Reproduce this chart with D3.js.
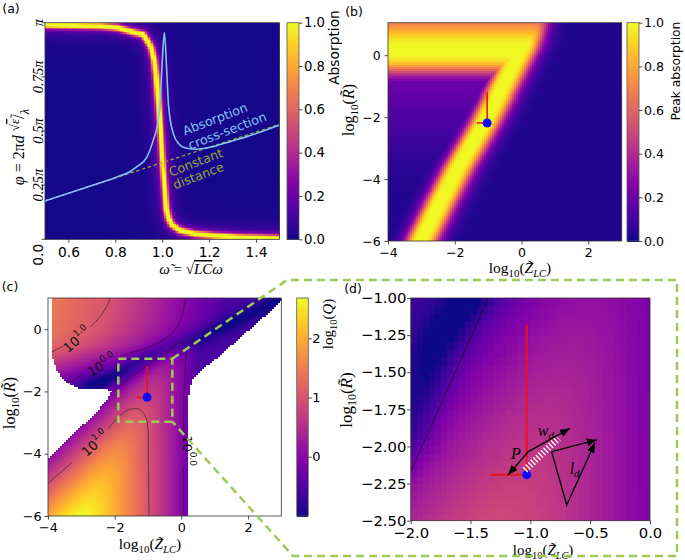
<!DOCTYPE html>
<html><head><meta charset="utf-8">
<script src="https://cdn.jsdelivr.net/npm/d3@7"></script>
<style>html,body{margin:0;padding:0;background:#fff;} svg{display:block;}</style>
</head><body>
<svg id="fig" width="685" height="560" xmlns="http://www.w3.org/2000/svg"></svg>
<script>
// ================= DATA =================
// ---- panel (a) ----
const aOmegaTicks=[0.6,0.8,1.0,1.2,1.4];
const aOmegaTickLabels=["0.6","0.8","1.0","1.2","1.4"];
const aPhiTicks=[0.25,0.5,0.75,1];            // in units of pi
const aPhiTickLabels=["0.25π","0.5π","0.75π","π"];
const aBandOmega=[0.5,0.735,0.807,0.875,0.918,0.935,0.952,0.965,0.973,0.982,0.993,1.001,1.010,1.018,1.029,1.042,1.076,1.140,1.225,1.332,1.5];
const aBandPhi=[0.992,0.987,0.980,0.959,0.948,0.920,0.888,0.828,0.758,0.643,0.505,0.366,0.246,0.145,0.098,0.071,0.045,0.029,0.020,0.013,0.008];
const aCrossOmega=[0.5,0.662,0.807,0.862,0.892,0.935,0.962,0.983,0.990,0.998,1.009,1.019,1.026,1.034,1.047,1.068,1.104,1.147,1.218,1.289,1.360,1.5];
const aCrossPhi=[0.177,0.235,0.288,0.312,0.335,0.381,0.459,0.551,0.629,0.782,0.954,0.782,0.629,0.551,0.489,0.443,0.420,0.416,0.428,0.451,0.474,0.528];
const aConstOmega=[0.5,1.5];
const aConstPhi=[0.177,0.531];
const absTicks=[0,0.2,0.4,0.6,0.8,1.0];
const absTickLabels=["0.0","0.2","0.4","0.6","0.8","1.0"];
// ---- panels (b)(c) shared ----
const zTicks=[-4,-2,0,2];
const zTickLabels=["−4","−2","0","2"];
const rTicks=[0,-2,-4,-6];
const rTickLabels=["0","−2","−4","−6"];
// ---- panel (b) ----
const bDiagR=[-6,-4.68,-3.6,-2.18,-1.45,-0.38,0.2,1.05];
const bDiagZ=[-3.05,-2.44,-1.92,-1.15,-0.8,-0.3,-0.02,0.3];
const bBarCenterR=0.24;
const bBarEdgeR=-0.85;
// ---- design point (b,c,d) ----
const dotZ=-1.03, dotR=-2.19, redTopR=-1.18, redLeftZ=-1.34;
// ---- panel (c) ----
const qTicks=[0,1,2];
const qTickLabels=["0","1","2"];
const cUpperQ1Z=[-1.74,-0.84,-0.24,0.01,0.11,0.16];
const cUpperQ1R=[-0.84,-0.52,-0.09,0.39,0.88,1.04];
const cValleyZ=[-2.7,-1.7,-0.8,0.3,1.5,3.0];
const cValleyR=[-1.8,-1.35,-0.8,-0.3,0.2,1.0];
const cMaskLeftZ=[-4.05,-3.89,-3.89,-3.74,-3.44,-3.04,-2.24,-2.09,-2.24,-2.49,-4.05];
const cMaskLeftR=[1.05,1.05,-0.83,-1.31,-1.69,-1.88,-1.9,-2.0,-2.27,-2.59,-4.23];
const cMaskRightZ=[3.05,1.07,0.56,0.31,0.24,0.19,0.19,3.05];
const cMaskRightR=[0.98,-0.89,-1.31,-1.63,-1.96,-2.3,-6.05,-6.05];
const cCont1Z=[-3.89,-3.55,NaN,-2.74,-2.44,-2.19,-2.14];          // Q = 10 (upper)
const cCont1R=[-0.73,-0.55,NaN,0.07,0.4,0.83,1.0];
const cCont2Z=[-3.4,-2.95,NaN,-1.89,-1.74,-0.84,-0.24,0.01,0.11,0.16]; // Q = 1 (upper)
const cCont2R=[-1.75,-1.45,NaN,-0.94,-0.84,-0.52,-0.09,0.39,0.88,1.04];
const cCont3Z=[-2.0,-1.74,-0.6,-0.09,0.03,0.11,0.13,0.08,0.07,NaN,0.06,0.06]; // Q = 1 (right)
const cCont3R=[-2.0,-1.73,-0.85,-0.45,-0.37,-0.5,-1.0,-2.0,-3.4,NaN,-4.4,-6.0];
const cCont4Z=[-4,-3.3,NaN,-2.2,-1.84,-1.6,-1.29,-1.09,-1.0,-0.99,-0.97]; // Q = 10 (lower)
const cCont4R=[-4.95,-4.3,NaN,-3.2,-2.77,-2.6,-2.56,-2.77,-3.2,-4.0,-6.0];
const cLabelText=["1.0","0.0","0.0","1.0"];
const cLabelZ=[-3.14,-2.39,0.21,-2.59];
const cLabelR=[-0.33,-1.15,-3.9,-3.66];
const cLabelAngle=[-40,-30,90,-42];
const cBoxZ=[-1.89,-0.27];
const cBoxR=[-0.95,-2.97];
// ---- panel (d) ----
const dZTicks=[-2,-1.5,-1,-0.5,0];
const dZTickLabels=["−2.0","−1.5","−1.0","−0.5","0.0"];
const dRTicks=[-1,-1.25,-1.5,-1.75,-2,-2.25,-2.5];
const dRTickLabels=["−1.00","−1.25","−1.50","−1.75","−2.00","−2.25","−2.50"];
const dContZ=[-2.0,-1.35];
const dContR=[-2.17,-1.0];
const dValleyZ=[-2.1,-2.0,-1.75,-1.5,-1.35];
const dValleyR=[-2.0,-1.87,-1.3,-1.0,-0.85];
const dArrowPZ=[-1.017,-1.187], dArrowPR=[-2.035,-2.192];
const dArrowWZ=[-1.017,-0.669], dArrowWR=[-2.035,-1.878];
const dHatchZ=[-1.045,-0.766], dHatchR=[-2.158,-1.945];
const dLdAZ=[-0.822,-0.445], dLdAR=[-2.035,-1.956];
const dLdBZ=[-0.822,-0.696,-0.46], dLdBR=[-2.035,-2.394,-1.975];

// ================= HELPERS =================
const svg=d3.select("#fig");
const fSans='"DejaVu Sans", "Liberation Sans", sans-serif';
const fSerif='"Liberation Serif", "DejaVu Serif", serif';
const plasma=d3.interpolatePlasma;
const clamp01=v=>Math.max(0,Math.min(1,v));
function interpExt(xs,ys,x){const n=xs.length;
  if(x<=xs[0]) return ys[0]+(x-xs[0])*(ys[1]-ys[0])/(xs[1]-xs[0]);
  if(x>=xs[n-1]) return ys[n-1]+(x-xs[n-1])*(ys[n-1]-ys[n-2])/(xs[n-1]-xs[n-2]);
  let i=1; while(xs[i]<x) i++; const t=(x-xs[i-1])/(xs[i]-xs[i-1]); return ys[i-1]+t*(ys[i]-ys[i-1]);}
function segDist(px,py,ax,ay,bx,by){const dx=bx-ax,dy=by-ay;const L=dx*dx+dy*dy;let t=L?((px-ax)*dx+(py-ay)*dy)/L:0;t=Math.max(0,Math.min(1,t));const ex=ax+t*dx-px,ey=ay+t*dy-py;return Math.sqrt(ex*ex+ey*ey);}
function polyDist(px,py,xs,ys){let m=Infinity;for(let i=0;i<xs.length-1;i++){const d=segDist(px,py,xs[i],ys[i],xs[i+1],ys[i+1]);if(d<m)m=d;}return m;}

function heat(g,xs,ys,nx,ny,valueFn,colorFn){
  const [x0,x1]=xs.domain(),[y0,y1]=ys.domain();const cells=[];
  for(let j=0;j<ny;j++)for(let i=0;i<nx;i++){
    const xa=x0+(x1-x0)*i/nx,xb=x0+(x1-x0)*(i+1)/nx,ya=y0+(y1-y0)*j/ny,yb=y0+(y1-y0)*(j+1)/ny;
    const v=valueFn((xa+xb)/2,(ya+yb)/2); if(v===null) continue; cells.push({xa,xb,ya,yb,v});}
  g.append("g").attr("shape-rendering","crispEdges").selectAll("rect").data(cells).join("rect")
   .attr("x",d=>Math.min(xs(d.xa),xs(d.xb))).attr("y",d=>Math.min(ys(d.ya),ys(d.yb)))
   .attr("width",d=>Math.abs(xs(d.xb)-xs(d.xa))+0.7).attr("height",d=>Math.abs(ys(d.yb)-ys(d.ya))+0.7)
   .attr("fill",d=>colorFn(d.v));
}
function clip(id,xs,ys){const [a,b]=xs.range(),[c,d]=ys.range();
  svg.append("clipPath").attr("id",id).append("rect").attr("x",Math.min(a,b)).attr("y",Math.min(c,d)).attr("width",Math.abs(b-a)).attr("height",Math.abs(d-c));}
function frame(xs,ys){const [a,b]=xs.range(),[c,d]=ys.range();
  svg.append("rect").attr("x",Math.min(a,b)).attr("y",Math.min(c,d)).attr("width",Math.abs(b-a)).attr("height",Math.abs(d-c)).attr("fill","none").attr("stroke","#333").attr("stroke-width",0.8);}
function axisB(xs,ys,ticks,labels,fs,pad){
  const g=svg.append("g").attr("transform",`translate(0,${ys.range()[0]})`).call(d3.axisBottom(xs).tickValues(ticks).tickSize(3.5).tickPadding(pad).tickFormat((d,i)=>labels[i]));
  g.select(".domain").remove(); g.selectAll("line").attr("stroke","#222").attr("stroke-width",0.8);
  g.selectAll("text").attr("font-family",fSans).attr("font-size",fs).attr("fill","#000"); return g;}
function axisL(xs,ys,ticks,labels,fs,pad){
  const g=svg.append("g").attr("transform",`translate(${xs.range()[0]},0)`).call(d3.axisLeft(ys).tickValues(ticks).tickSize(3.5).tickPadding(pad).tickFormat((d,i)=>labels[i]));
  g.select(".domain").remove(); g.selectAll("line").attr("stroke","#222").attr("stroke-width",0.8);
  g.selectAll("text").attr("font-family",fSans).attr("font-size",fs).attr("fill","#000"); return g;}
function colorbar(x0,x1,y0,y1,domain,cfn,ticks,labels,fs,lx){
  const s=d3.scaleLinear().domain(domain).range([y1,y0]);const n=150;
  const steps=d3.range(n).map(i=>domain[0]+(domain[1]-domain[0])*i/n);const st=(domain[1]-domain[0])/n;
  svg.append("g").attr("shape-rendering","crispEdges").selectAll("rect").data(steps).join("rect").attr("x",x0).attr("width",x1-x0)
    .attr("y",d=>s(d+st)).attr("height",d=>s(d)-s(d+st)+0.8).attr("fill",d=>cfn(d+st/2));
  svg.append("rect").attr("x",x0).attr("y",y0).attr("width",x1-x0).attr("height",y1-y0).attr("fill","none").attr("stroke","#555").attr("stroke-width",0.8);
  const g=svg.append("g").attr("transform",`translate(${x1},0)`).call(d3.axisRight(s).tickValues(ticks).tickSize(3.5).tickPadding(lx).tickFormat((d,i)=>labels[i]));
  g.select(".domain").remove(); g.selectAll("line").attr("stroke","#222").attr("stroke-width",0.8);
  g.selectAll("text").attr("font-family",fSans).attr("font-size",fs).attr("fill","#000");
}
function logLabel(x,y,rot,v,sub,fs){
  const t=svg.append("text").attr("transform",`translate(${x},${y}) rotate(${rot})`).attr("text-anchor","middle")
    .attr("font-family",fSerif).attr("font-size",fs).attr("fill","#000");
  t.append("tspan").text("log");
  t.append("tspan").attr("font-size",fs*0.7).attr("dy",fs*0.26).text("10");
  t.append("tspan").attr("dy",-fs*0.26).text("(");
  t.append("tspan").attr("font-style","italic").text(v);
  if(sub){t.append("tspan").attr("font-style","italic").attr("font-size",fs*0.68).attr("dy",fs*0.26).text(sub);
          t.append("tspan").attr("dy",-fs*0.26).text(")");}
  else t.append("tspan").text(")");
}
function panelLabel(x,y,s){svg.append("text").attr("x",x).attr("y",y).attr("text-anchor","middle").attr("dominant-baseline","central")
  .attr("font-family",fSans).attr("font-size",12.5).text(s);}
function designPoint(g,xs,ys,w){
  g.append("line").attr("x1",xs(dotZ)).attr("x2",xs(dotZ)).attr("y1",ys(redTopR)).attr("y2",ys(dotR)).attr("stroke","#e8141a").attr("stroke-width",w);
  g.append("line").attr("x1",xs(redLeftZ)).attr("x2",xs(dotZ)).attr("y1",ys(dotR)).attr("y2",ys(dotR)).attr("stroke","#e8141a").attr("stroke-width",w);
  g.append("circle").attr("cx",xs(dotZ)).attr("cy",ys(dotR)).attr("r",4.5).attr("fill","#0a0aff");
}

// ================= PANEL (a) =================
const xA=d3.scaleLinear().domain([0.5,1.5]).range([45,279.5]);
const yA=d3.scaleLinear().domain([0,1]).range([239.3,22.7]);
clip("clipA",xA,yA);
const gA=svg.append("g").attr("clip-path","url(#clipA)");
const bandPX=aBandOmega.map(v=>xA(v)), bandPY=aBandPhi.map(v=>yA(v));
heat(gA,xA,yA,157,145,(w,p)=>{const d=polyDist(xA(w),yA(p),bandPX,bandPY);
  return Math.min(1,0.012+0.95/(1+Math.pow(d/2.8,3))+0.16/(1+(d/6)*(d/6)));},plasma);
gA.append("path").datum(aConstOmega.map((w,i)=>[w,aConstPhi[i]])).attr("d",d3.line().x(d=>xA(d[0])).y(d=>yA(d[1])))
  .attr("fill","none").attr("stroke","#9aab3a").attr("stroke-width",1.2).attr("stroke-dasharray","3.5,2.5");
gA.append("path").datum(aCrossOmega.map((w,i)=>[w,aCrossPhi[i]])).attr("d",d3.line().x(d=>xA(d[0])).y(d=>yA(d[1])).curve(d3.curveMonotoneX))
  .attr("fill","none").attr("stroke","#80c6f2").attr("stroke-width",1.6);
frame(xA,yA);
axisB(xA,yA,aOmegaTicks,aOmegaTickLabels,13.8,4);
svg.append("g").selectAll("line").data(aPhiTicks.concat([0])).join("line").attr("x1",45).attr("x2",41.5)
  .attr("y1",d=>yA(d)).attr("y2",d=>yA(d)).attr("stroke","#222").attr("stroke-width",0.8);
svg.append("g").selectAll("text").data(aPhiTicks).join("text")
  .attr("transform",d=>`translate(42.8,${yA(d)}) rotate(-90)`).attr("text-anchor","middle")
  .attr("font-family",fSerif).attr("font-style","italic").attr("font-size",14.5).text((d,i)=>aPhiTickLabels[i]);
svg.append("text").attr("transform",`translate(42.8,${yA(0)+15.5}) rotate(-90)`).attr("text-anchor","middle")
  .attr("font-family",fSans).attr("font-size",13.8).text("0.0");
// axis labels (a)
{const t=svg.append("text").attr("x",191).attr("y",274).attr("text-anchor","middle").attr("font-family",fSerif).attr("font-size",15);
 t.append("tspan").attr("font-style","italic").text("ω̃");
 t.append("tspan").text(" = √");
 t.append("tspan").attr("font-style","italic").attr("text-decoration","overline").text("LC");
 t.append("tspan").attr("font-style","italic").text("ω");}
{const t=svg.append("text").attr("transform","translate(24,147) rotate(-90)").attr("text-anchor","middle").attr("font-family",fSerif).attr("font-size",16);
 t.append("tspan").attr("font-style","italic").text("φ");
 t.append("tspan").text(" = 2π");
 t.append("tspan").attr("font-style","italic").text("d ");
 t.append("tspan").attr("dy",-5).attr("font-size",13).text("√");
 t.append("tspan").attr("font-size",13).attr("font-style","italic").attr("text-decoration","overline").text("ε̃");
 t.append("tspan").attr("dy",5).text("/");
 t.append("tspan").attr("dy",5).attr("font-size",13).attr("font-style","italic").text("λ");}
// annotations (a)
function aNote(x,y,s,c){svg.append("text").attr("transform",`translate(${x},${y}) rotate(-21)`).attr("text-anchor","middle").attr("dominant-baseline","central")
  .attr("font-family",fSans).attr("font-size",12.6).attr("fill",c).text(s);}
aNote(215,119,"Absorption","#80c6f2");
aNote(227.3,130.7,"cross-section","#80c6f2");
aNote(195.7,162.3,"Constant","#94a93a");
aNote(198.3,175.7,"distance","#94a93a");
colorbar(287,299,22.7,239.3,[0,1],plasma,absTicks,absTickLabels,13.2,1.5);
svg.append("text").attr("transform","translate(339,47.5) rotate(-90)").attr("text-anchor","middle").attr("font-family",fSans).attr("font-size",13.8).text("Absorption");
panelLabel(11,8.5,"(a)");

// ================= PANEL (b) =================
const xB=d3.scaleLinear().domain([-4,3]).range([388,621.7]);
const yB=d3.scaleLinear().domain([-6,1.05]).range([241,22.7]);
clip("clipB",xB,yB);
const gB=svg.append("g").attr("clip-path","url(#clipB)");
heat(gB,xB,yB,117,109,(z,r)=>{
  const zc=interpExt(bDiagR,bDiagZ,r); const d=z-zc;
  let diag=1/(1+Math.pow(Math.abs(d)/(d>0?0.5:0.42),4));
  if(r>0.3) diag*=Math.max(0,(1.05-r)/0.75);
  let bar=0;
  if(r>=bBarEdgeR){const dr=r-bBarCenterR;
    bar=dr>0?1/(1+(dr/1.19)*(dr/1.19)):1/(1+Math.pow(-dr/0.79,4));
    bar*= d<=0?1:1/(1+Math.pow(d/0.5,4));}
  const bg=d<0?0.03+0.17*Math.pow(clamp01((r+4.5)/3.5),1.5):0.03;
  return Math.max(diag,bar,bg);},plasma);
designPoint(gB,xB,yB,1.6);
frame(xB,yB);
axisB(xB,yB,zTicks,zTickLabels,12.5,3.3);
axisL(xB,yB,rTicks,rTickLabels,12.5,3.8);
logLabel(354,110,-90,"R̃",null,16);
logLabel(520,273,0,"Z̃","LC",15.5);
colorbar(627,639,22.7,241,[0,1],plasma,absTicks,absTickLabels,12.6,1.5);
svg.append("text").attr("transform","translate(680,71) rotate(-90)").attr("text-anchor","middle").attr("font-family",fSans).attr("font-size",12.3).text("Peak absorption");
panelLabel(354,11,"(b)");

// ================= PANELS (c)(d) field =================
const qColor=v=>plasma(clamp01((v+1.0)/3.68));
function lowerQ(z,r){return -z-Math.log10(1+Math.pow(10,r-2*z));}
function upperQ(z,r){const z1=interpExt(cUpperQ1R,cUpperQ1Z,r);let u=(z1-z)/2.3;if(u>1)u=1+(u-1)*0.6;return u;}

// ================= PANEL (c) =================
const xC=d3.scaleLinear().domain([-4,3]).range([48,281.3]);
const yC=d3.scaleLinear().domain([-6,1]).range([516,298]);
clip("clipC",xC,yC);
const gC=svg.append("g").attr("clip-path","url(#clipC)");
const maskL=cMaskLeftZ.map((z,i)=>[z,cMaskLeftR[i]]), maskR=cMaskRightZ.map((z,i)=>[z,cMaskRightR[i]]);
heat(gC,xC,yC,117,109,(z,r)=>{
  if(d3.polygonContains(maskL,[z,r])||d3.polygonContains(maskR,[z,r])) return null;
  const base=Math.max(lowerQ(z,r),upperQ(z,r),-0.55);
  const dv=polyDist(z,r,cValleyZ,cValleyR);
  return base-0.45*Math.exp(-(dv/0.3)*(dv/0.3));},qColor);
const cLine=d3.line().defined(d=>!isNaN(d[0])).x(d=>xC(d[0])).y(d=>yC(d[1])).curve(d3.curveCatmullRom);
[[cCont1Z,cCont1R],[cCont2Z,cCont2R],[cCont3Z,cCont3R],[cCont4Z,cCont4R]].forEach(([zs,rs])=>{
  gC.append("path").datum(zs.map((z,i)=>[z,rs[i]])).attr("d",cLine).attr("fill","none").attr("stroke","#2a1430").attr("stroke-width",0.8).attr("stroke-opacity",0.75);});
cLabelText.forEach((s,i)=>{
  const t=svg.append("text").attr("transform",`translate(${xC(cLabelZ[i])},${yC(cLabelR[i])}) rotate(${cLabelAngle[i]})`)
    .attr("text-anchor","middle").attr("dominant-baseline","central").attr("font-family",fSans).attr("font-size",13).attr("fill","#111");
  t.append("tspan").text("10"); t.append("tspan").attr("font-size",9).attr("dy",-5).text(s);});
designPoint(gC,xC,yC,1.6);
frame(xC,yC);
axisB(xC,yC,zTicks,zTickLabels,12.8,3);
axisL(xC,yC,rTicks,rTickLabels,12.8,2.8);
logLabel(15,403,-90,"R̃",null,16);
logLabel(150,549,0,"Z̃","LC",15.5);
colorbar(296.7,308.3,298,516,[-1.0,2.68],qColor,qTicks,qTickLabels,13,0.5);
logLabel(333,324,-90,"Q",null,15);
panelLabel(10,286,"(c)");

// ================= PANEL (d) =================
const xD=d3.scaleLinear().domain([-2,0]).range([410.7,650]);
const yD=d3.scaleLinear().domain([-2.5,-1]).range([520.7,298]);
clip("clipD",xD,yD);
const gD=svg.append("g").attr("clip-path","url(#clipD)");
heat(gD,xD,yD,40,30,(z,r)=>{
  const base=Math.max(lowerQ(z,r),-0.6);
  const dv=polyDist(z,r,dValleyZ,dValleyR);
  return base-0.08-0.55*Math.exp(-(dv/0.18)*(dv/0.18));},qColor);
gD.append("path").datum(dContZ.map((z,i)=>[z,dContR[i]])).attr("d",d3.line().x(d=>xD(d[0])).y(d=>yD(d[1])))
  .attr("fill","none").attr("stroke","#1a0a30").attr("stroke-width",0.8);
designPoint(gD,xD,yD,2);
// arrows
const defs=svg.append("defs");
defs.append("marker").attr("id","ah").attr("viewBox","0 0 10 8").attr("refX",10).attr("refY",4)
  .attr("markerWidth",10).attr("markerHeight",8).attr("markerUnits","userSpaceOnUse").attr("orient","auto")
  .append("path").attr("d","M0,0 L10,4 L0,8 z").attr("fill","#000");
const dLine=d3.line().x(d=>xD(d[0])).y(d=>yD(d[1]));
gD.append("path").datum(dHatchZ.map((z,i)=>[z,dHatchR[i]])).attr("d",dLine).attr("stroke","#fff").attr("stroke-width",7).attr("stroke-dasharray","1.3,2.2").attr("fill","none");
[[dArrowPZ,dArrowPR],[dArrowWZ,dArrowWR],[dLdAZ,dLdAR]].forEach(([zs,rs])=>{
  gD.append("path").datum(zs.map((z,i)=>[z,rs[i]])).attr("d",dLine).attr("stroke","#000").attr("stroke-width",1.4).attr("fill","none").attr("marker-end","url(#ah)");});
gD.append("path").datum(dLdBZ.map((z,i)=>[z,dLdBR[i]])).attr("d",dLine).attr("stroke","#000").attr("stroke-width",1.4).attr("fill","none").attr("marker-end","url(#ah)");
function itxt(z,r,main,sub){const t=svg.append("text").attr("x",xD(z)).attr("y",yD(r)).attr("text-anchor","middle").attr("dominant-baseline","central")
  .attr("font-family",fSerif).attr("font-style","italic").attr("font-size",16).text(main);
  if(sub){t.append("tspan").attr("font-size",11).attr("dy",4).text(sub);}}
itxt(-1.12,-2.045,"P",null);
itxt(-0.87,-1.893,"w","d");
itxt(-0.63,-2.15,"l","d");
frame(xD,yD);
axisB(xD,yD,dZTicks,dZTickLabels,14.8,3);
axisL(xD,yD,dRTicks,dRTickLabels,14.8,0.8);
logLabel(352,400,-90,"R̃",null,17);
logLabel(543,555,0,"Z̃","LC",15);
panelLabel(353,288,"(d)");

// ================= zoom connectors =================
const green="#9fca55";
const gz=svg.append("g").attr("fill","none").attr("stroke",green).attr("stroke-width",2.5).attr("stroke-dasharray","8,5");
gz.append("rect").attr("x",xC(cBoxZ[0])).attr("y",yC(cBoxR[0])).attr("width",xC(cBoxZ[1])-xC(cBoxZ[0])).attr("height",yC(cBoxR[1])-yC(cBoxR[0]));
const fx0=287, fx1=677, fy0=280, fy1=556;
gz.append("path").attr("d",`M${xC(cBoxZ[1])},${yC(cBoxR[0])} L${fx0},${fy0} L${fx1},${fy0} L${fx1},${fy1} L${fx0+6},${fy1} L${xC(cBoxZ[1])},${yC(cBoxR[1])}`);
</script>
</body></html>
